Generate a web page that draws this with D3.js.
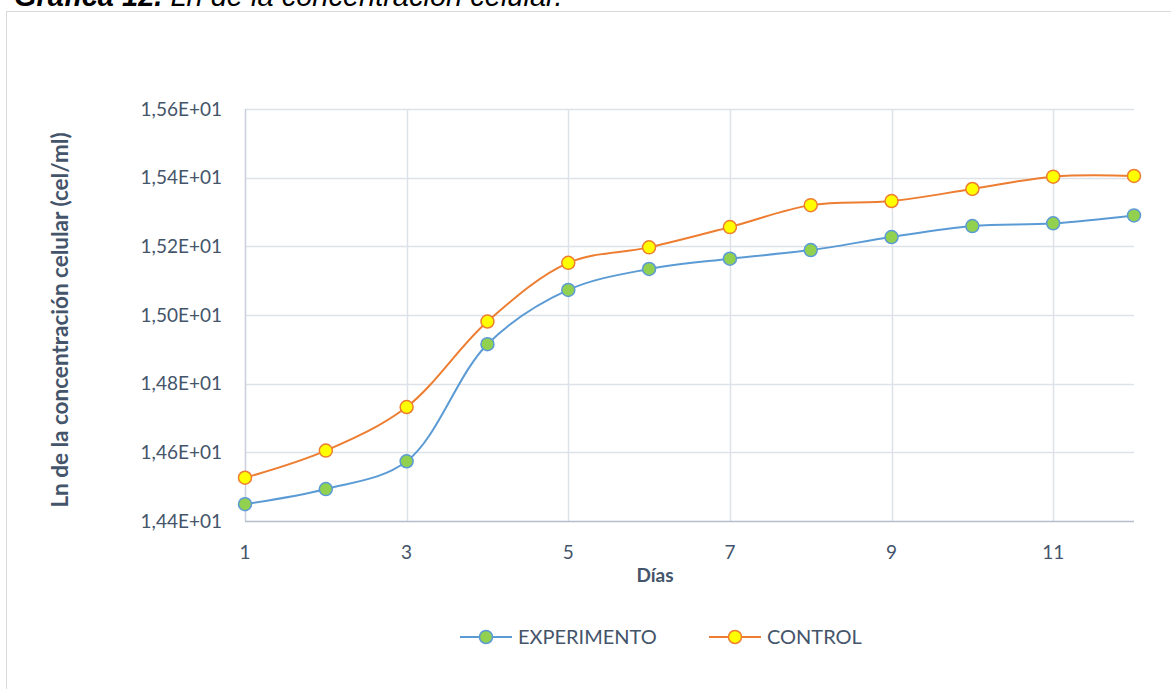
<!DOCTYPE html>
<html>
<head>
<meta charset="utf-8">
<script src="https://cdn.jsdelivr.net/npm/d3@7"></script>
<style>
  html, body { margin: 0; padding: 0; background: #ffffff; }
  svg { display: block; }
</style>
</head>
<body>
<svg id="chart" width="1171" height="689"></svg>
<script>
// Days of culture
const days = [1, 2, 3, 4, 5, 6, 7, 8, 9, 10, 11, 12];
// Ln of cell concentration (cel/ml) per series
const experimento = [14.449, 14.493, 14.574, 14.915, 15.073, 15.134, 15.164, 15.189, 15.227, 15.259, 15.267, 15.290];
const control     = [14.526, 14.605, 14.732, 14.981, 15.152, 15.197, 15.256, 15.320, 15.332, 15.367, 15.403, 15.405];
// Axis ticks
const xTicks = [1, 3, 5, 7, 9, 11];
const yTicks = [14.4, 14.6, 14.8, 15.0, 15.2, 15.4, 15.6];
const seriesNames = ["EXPERIMENTO", "CONTROL"];

const svg = d3.select("#chart");
const textColor = "#44546a";
const font = "Lato, 'Open Sans', sans-serif";

// Outer chart frame
svg.append("rect")
  .attr("x", 6.5).attr("y", 11.5)
  .attr("width", 1200).attr("height", 700)
  .attr("fill", "#ffffff")
  .attr("stroke", "#d9d9d9").attr("stroke-width", 1);

// Caption above the frame
const cap = svg.append("text")
  .attr("x", 14).attr("y", 6)
  .attr("font-family", "'Liberation Sans', Arial, sans-serif")
  .attr("font-size", 29)
  .attr("font-style", "italic")
  .attr("fill", "#000000");
cap.append("tspan").attr("font-weight", "bold").text("Gráfica 12.");
cap.append("tspan").text(" Ln de la concentración celular.");

const x = d3.scaleLinear().domain([1, 12]).range([245, 1134]);
const y = d3.scaleLinear().domain([14.4, 15.6]).range([521, 109]);

const fmt = v => (v / 10).toFixed(2).replace(".", ",") + "E+01";

// Horizontal gridlines
svg.append("g")
  .selectAll("line")
  .data(yTicks.slice(1))
  .join("line")
  .attr("x1", x(1)).attr("x2", x(12))
  .attr("y1", d => Math.round(y(d)) + 0.5).attr("y2", d => Math.round(y(d)) + 0.5)
  .attr("stroke", "#dde1e8").attr("stroke-width", 1.5);

// Vertical gridlines
svg.append("g")
  .selectAll("line")
  .data(xTicks)
  .join("line")
  .attr("x1", d => Math.round(x(d)) + 0.5).attr("x2", d => Math.round(x(d)) + 0.5)
  .attr("y1", y(15.6)).attr("y2", y(14.4))
  .attr("stroke", d => d === 1 ? "#c9cfd9" : "#dde1e8").attr("stroke-width", 1.5);

// Bottom axis line
svg.append("line")
  .attr("x1", x(1)).attr("x2", x(12))
  .attr("y1", Math.round(y(14.4)) + 0.5).attr("y2", Math.round(y(14.4)) + 0.5)
  .attr("stroke", "#b4bdcb").attr("stroke-width", 1.5);

// Y tick labels
svg.append("g")
  .selectAll("text")
  .data(yTicks)
  .join("text")
  .attr("x", 222).attr("y", d => y(d))
  .attr("dy", "0.35em")
  .attr("text-anchor", "end")
  .attr("font-family", font).attr("font-size", 19)
  .attr("fill", textColor)
  .text(fmt);

// X tick labels
svg.append("g")
  .selectAll("text")
  .data(xTicks)
  .join("text")
  .attr("x", d => x(d)).attr("y", 552)
  .attr("dy", "0.35em")
  .attr("text-anchor", "middle")
  .attr("font-family", font).attr("font-size", 19)
  .attr("fill", textColor)
  .text(d => d);

// Axis titles
svg.append("text")
  .attr("x", 655).attr("y", 575)
  .attr("dy", "0.35em")
  .attr("text-anchor", "middle")
  .attr("font-family", font).attr("font-size", 19).attr("font-weight", "bold")
  .attr("fill", textColor)
  .text("Días");

svg.append("text")
  .attr("transform", "translate(60,320) rotate(-90)")
  .attr("dy", "0.35em")
  .attr("text-anchor", "middle")
  .attr("font-family", font).attr("font-size", 22.5).attr("font-weight", "bold")
  .attr("fill", textColor)
  .text("Ln de la concentración celular (cel/ml)");

// Series
const series = [
  { name: seriesNames[0], values: experimento, line: "#5b9bd5", fill: "#92d050" },
  { name: seriesNames[1], values: control, line: "#ed7d31", fill: "#ffff00" }
];

const lineGen = d3.line()
  .x(d => x(d[0])).y(d => y(d[1]))
  .curve(d3.curveCatmullRom.alpha(0.5));

series.forEach(s => {
  const pts = days.map((d, i) => [d, s.values[i]]);
  svg.append("path")
    .datum(pts)
    .attr("d", lineGen)
    .attr("fill", "none")
    .attr("stroke", s.line).attr("stroke-width", 2);
  svg.append("g")
    .selectAll("circle")
    .data(pts)
    .join("circle")
    .attr("cx", d => x(d[0])).attr("cy", d => y(d[1]))
    .attr("r", 6.5)
    .attr("fill", s.fill)
    .attr("stroke", s.line).attr("stroke-width", 1.5);
});

// Legend
const legendItems = [
  { s: series[0], x0: 460 },
  { s: series[1], x0: 709 }
];
const lg = svg.append("g");
legendItems.forEach(item => {
  const ly = 637;
  lg.append("line")
    .attr("x1", item.x0).attr("x2", item.x0 + 52)
    .attr("y1", ly).attr("y2", ly)
    .attr("stroke", item.s.line).attr("stroke-width", 2);
  lg.append("circle")
    .attr("cx", item.x0 + 26).attr("cy", ly).attr("r", 6.5)
    .attr("fill", item.s.fill)
    .attr("stroke", item.s.line).attr("stroke-width", 1.5);
  lg.append("text")
    .attr("x", item.x0 + 58).attr("y", ly)
    .attr("dy", "0.35em")
    .attr("font-family", font).attr("font-size", 20)
    .attr("fill", textColor)
    .text(item.s.name);
});
</script>
</body>
</html>
